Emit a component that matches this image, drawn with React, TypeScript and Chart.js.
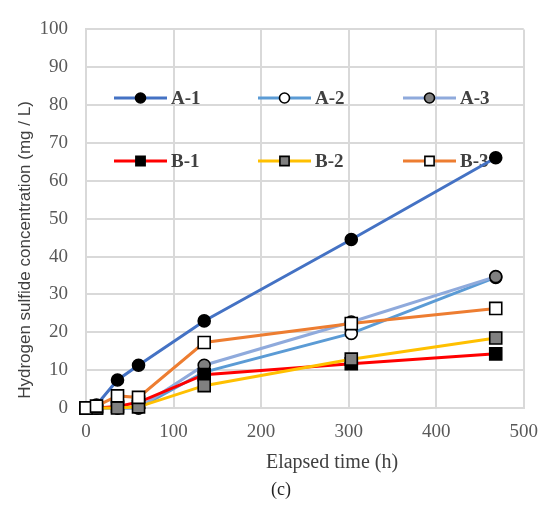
import { useEffect, useRef } from "react";
import { Chart, registerables } from "chart.js";

Chart.register(...registerables);

// Sampling times (h)
const hours = [0, 12, 36, 60, 135, 303, 468];

// Hydrogen sulfide concentration (mg / L) per sample
const seriesNames = ["A-1", "A-2", "A-3", "B-1", "B-2", "B-3"];
const valuesA1 = [0, 0.8, 7.4, 11.3, 23, 44.5, 66.1];
const valuesA2 = [0, 0, 0, 0, 9.5, 19.7, 34.5];
const valuesA3 = [0, 0, 0, 0, 11.3, 22.7, 34.7];
const valuesB1 = [0, 0, 0.4, 1.5, 8.8, 11.7, 14.3];
const valuesB2 = [0, 0, 0, 0.3, 5.9, 12.9, 18.5];
const valuesB3 = [0, 0.5, 3.2, 2.8, 17.3, 22.3, 26.3];

const xTicks = [0, 100, 200, 300, 400, 500];
const yTicks = [0, 10, 20, 30, 40, 50, 60, 70, 80, 90, 100];

const lineColors = ["#4472C4", "#5B9BD5", "#8FAADC", "#FF0000", "#FFC000", "#ED7D31"];
const markerFills = ["#000000", "#FFFFFF", "#808080", "#000000", "#808080", "#FFFFFF"];
const markerShapes = ["circle", "circle", "circle", "rect", "rect", "rect"];

const allValues = [valuesA1, valuesA2, valuesA3, valuesB1, valuesB2, valuesB3];

const GRID = "#D9D9D9";
const TEXT = "#404040";

function markerRadius(shape: string) {
  return shape === "rect" ? 8.5 : 6;
}

// Legend sample marker (slightly smaller than the plotted points)
function drawMarker(ctx: CanvasRenderingContext2D, shape: string, fill: string, x: number, y: number) {
  ctx.beginPath();
  if (shape === "rect") {
    const half = 4.6;
    ctx.rect(x - half, y - half, half * 2, half * 2);
  } else {
    ctx.arc(x, y, 5, 0, Math.PI * 2);
  }
  ctx.fillStyle = fill;
  ctx.fill();
  ctx.strokeStyle = "#000000";
  ctx.lineWidth = 1.6;
  ctx.stroke();
}

const legendAndTitles = {
  id: "legendAndTitles",
  beforeDatasetsDraw(chart: any) {
    const ctx = chart.ctx as CanvasRenderingContext2D;
    const rows = [98, 161];
    const cols = [114, 258, 403];
    const segLen = 53;
    seriesNames.forEach((name, i) => {
      const row = Math.floor(i / 3);
      const col = i % 3;
      const x0 = cols[col];
      const y = rows[row];
      ctx.save();
      ctx.strokeStyle = lineColors[i];
      ctx.lineWidth = 3;
      ctx.beginPath();
      ctx.moveTo(x0, y);
      ctx.lineTo(x0 + segLen, y);
      ctx.stroke();
      drawMarker(ctx, markerShapes[i], markerFills[i], x0 + segLen / 2, y);
      ctx.fillStyle = TEXT;
      ctx.font = "bold 19px 'Liberation Serif'";
      ctx.textAlign = "left";
      ctx.textBaseline = "middle";
      ctx.fillText(name, x0 + segLen + 4, y + 1);
      ctx.restore();
    });
  },
  afterDraw(chart: any) {
    const ctx = chart.ctx as CanvasRenderingContext2D;
    ctx.save();
    ctx.fillStyle = TEXT;
    ctx.textAlign = "center";
    ctx.textBaseline = "middle";
    ctx.font = "17px 'Liberation Sans'";
    ctx.translate(25, 250);
    ctx.rotate(-Math.PI / 2);
    ctx.fillText("Hydrogen sulfide concentration (mg / L)", 0, 0);
    ctx.restore();

    ctx.save();
    ctx.fillStyle = TEXT;
    ctx.textAlign = "center";
    ctx.textBaseline = "middle";
    ctx.font = "20px 'Liberation Serif'";
    ctx.fillText("Elapsed time (h)", 332, 463);
    ctx.fillStyle = "#222222";
    ctx.font = "18px 'Liberation Serif'";
    ctx.fillText("(c)", 281, 490);
    ctx.restore();
  },
};

export default function App() {
  const canvasRef = useRef<HTMLCanvasElement | null>(null);

  useEffect(() => {
    if (!canvasRef.current) return;
    const datasets = seriesNames.map((name, i) => ({
      label: name,
      data: hours.map((h, k) => ({ x: h, y: allValues[i][k] })),
      borderColor: lineColors[i],
      borderWidth: 3,
      backgroundColor: markerFills[i],
      pointBackgroundColor: markerFills[i],
      pointBorderColor: "#000000",
      pointBorderWidth: 1.6,
      pointStyle: markerShapes[i],
      pointRadius: markerRadius(markerShapes[i]),
      pointHoverRadius: markerRadius(markerShapes[i]),
      tension: 0,
      fill: false,
      clip: false,
      order: seriesNames.length - i,
    }));

    const chart = new Chart(canvasRef.current, {
      type: "line",
      data: { datasets },
      plugins: [legendAndTitles],
      options: {
        animation: false,
        responsive: false,
        layout: { padding: { top: 21, right: 21, left: 0, bottom: 0 } },
        plugins: {
          legend: { display: false },
          tooltip: { enabled: false },
        },
        scales: {
          x: {
            type: "linear",
            min: 0,
            max: 500,
            afterFit: (s: any) => {
              s.height = 103;
            },
            afterBuildTicks: (s: any) => {
              s.ticks = xTicks.map((v) => ({ value: v }));
            },
            ticks: {
              padding: 13,
              color: "#595959",
              font: { family: "'Liberation Serif'", size: 19 },
            },
            grid: { color: GRID, lineWidth: 2, drawTicks: false },
            border: { display: true, color: GRID, width: 2 },
          },
          y: {
            type: "linear",
            min: 0,
            max: 100,
            afterFit: (s: any) => {
              s.width = 86;
            },
            afterBuildTicks: (s: any) => {
              s.ticks = yTicks.map((v) => ({ value: v }));
            },
            ticks: {
              padding: 18,
              color: "#595959",
              font: { family: "'Liberation Serif'", size: 19 },
            },
            grid: { color: GRID, lineWidth: 2, drawTicks: false },
            border: { display: true, color: GRID, width: 2 },
          },
        },
      },
    });
    return () => chart.destroy();
  }, []);

  return (
    <div style={{ position: "fixed", left: 0, top: 0, width: 551, height: 511, background: "#FFFFFF" }}>
      <canvas ref={canvasRef} width={551} height={511} style={{ display: "block" }} />
    </div>
  );
}
